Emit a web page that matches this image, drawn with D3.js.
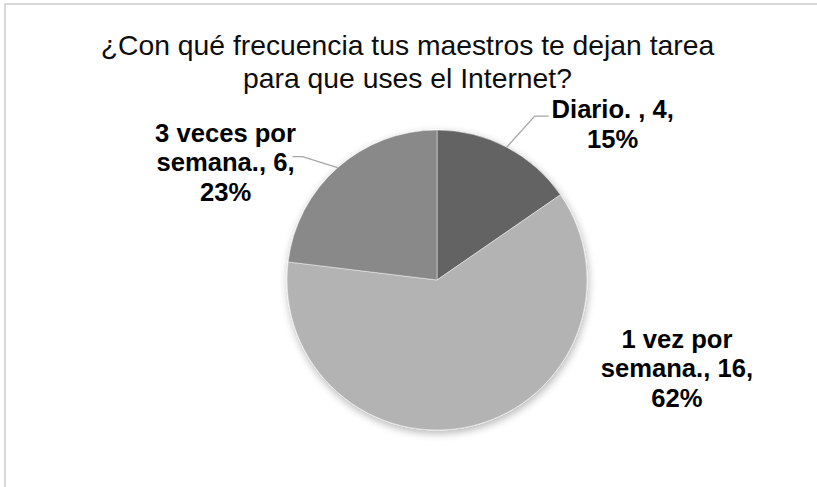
<!DOCTYPE html>
<html>
<head>
<meta charset="utf-8">
<script src="https://cdn.jsdelivr.net/npm/d3@7/dist/d3.min.js"></script>
<style>
  html, body { margin: 0; padding: 0; background: #fff; }
  svg { display: block; }
</style>
</head>
<body>
<svg id="chart" width="817" height="487"></svg>
<script>
// Survey answers: how often teachers assign homework that needs the Internet
const categories = ["Diario. ", "1 vez por semana.", "3 veces por semana."];
const counts = [4, 16, 6];
const sliceColors = ["#636363", "#b3b3b3", "#898989"];
const titleLines = ["¿Con qué frecuencia tus maestros te dejan tarea", "para que uses el Internet?"];

// Label text broken into lines, built from the values above
const total = d3.sum(counts);
const pct = counts.map(v => Math.round(v / total * 100) + "%");
const labelLines = [
  [categories[0] + ", " + counts[0] + ",", pct[0]],
  ["1 vez por", "semana., " + counts[1] + ",", pct[1]],
  ["3 veces por", "semana., " + counts[2] + ",", pct[2]]
];
// Placement of each label relative to the slice's outer edge point,
// and the leader line's elbow/end relative to the label anchor
const labelOffsets = [
  { dx: 106, dy: -29, leader: { elbow: [-78, -2], end: [-64, -2] } },
  { dx: 204, dy: -78, leader: null },
  { dx: -112, dy: -26, leader: { elbow: [77, 15], end: [67, 15] } }
];

const svg = d3.select("#chart");

// Chart area frame
svg.append("rect")
  .attr("x", 5).attr("y", 4)
  .attr("width", 900).attr("height", 600)
  .attr("fill", "none")
  .attr("stroke", "#d9d9d9")
  .attr("stroke-width", 2);

// Soft shadow under the pie
const defs = svg.append("defs");
const f = defs.append("filter").attr("id", "pieShadow")
  .attr("x", "-20%").attr("y", "-20%").attr("width", "140%").attr("height", "140%");
f.append("feGaussianBlur").attr("in", "SourceAlpha").attr("stdDeviation", 4).attr("result", "b");
f.append("feOffset").attr("in", "b").attr("dx", 1).attr("dy", 3).attr("result", "o");
f.append("feComponentTransfer").attr("in", "o").attr("result", "s")
  .append("feFuncA").attr("type", "linear").attr("slope", 0.3);
const m = f.append("feMerge");
m.append("feMergeNode").attr("in", "s");
m.append("feMergeNode").attr("in", "SourceGraphic");

// Title
svg.append("text")
  .attr("text-anchor", "middle")
  .attr("font-family", "Liberation Sans, Arial, sans-serif")
  .attr("font-size", 28.3)
  .attr("fill", "#0d0d0d")
  .selectAll("tspan")
  .data(titleLines)
  .join("tspan")
  .attr("x", 407.5)
  .attr("y", (d, i) => 55 + i * 32.5)
  .text(d => d);

// Pie
const cx = 437, cy = 280, R = 150;
const pie = d3.pie().sort(null).value(d => d)(counts);
const arc = d3.arc().innerRadius(0).outerRadius(R);

const g = svg.append("g").attr("transform", `translate(${cx},${cy})`);
g.append("g").attr("filter", "url(#pieShadow)")
  .selectAll("path")
  .data(pie)
  .join("path")
  .attr("d", arc)
  .attr("fill", (d, i) => sliceColors[i])
  .attr("stroke", "#ffffff")
  .attr("stroke-opacity", 0.45)
  .attr("stroke-width", 1);

// Data labels with leader lines
pie.forEach((d, i) => {
  const mid = (d.startAngle + d.endAngle) / 2;
  const px = R * Math.sin(mid), py = -R * Math.cos(mid);
  const o = labelOffsets[i];
  const lx = px + o.dx, ly = py + o.dy;

  if (o.leader) {
    const pts = [[px, py],
      [lx + o.leader.elbow[0], ly + o.leader.elbow[1]],
      [lx + o.leader.end[0], ly + o.leader.end[1]]];
    g.append("polyline")
      .attr("points", pts.map(p => p.join(",")).join(" "))
      .attr("fill", "none")
      .attr("stroke", "#a6a6a6")
      .attr("stroke-width", 1.3);
  }

  g.append("text")
    .attr("text-anchor", "middle")
    .attr("font-family", "Liberation Sans, Arial, sans-serif")
    .attr("font-weight", "bold")
    .attr("font-size", 25.6)
    .attr("fill", "#000")
    .selectAll("tspan")
    .data(labelLines[i])
    .join("tspan")
    .attr("x", lx)
    .attr("y", (t, j) => ly + j * 29.5)
    .text(t => t);
});
</script>
</body>
</html>
